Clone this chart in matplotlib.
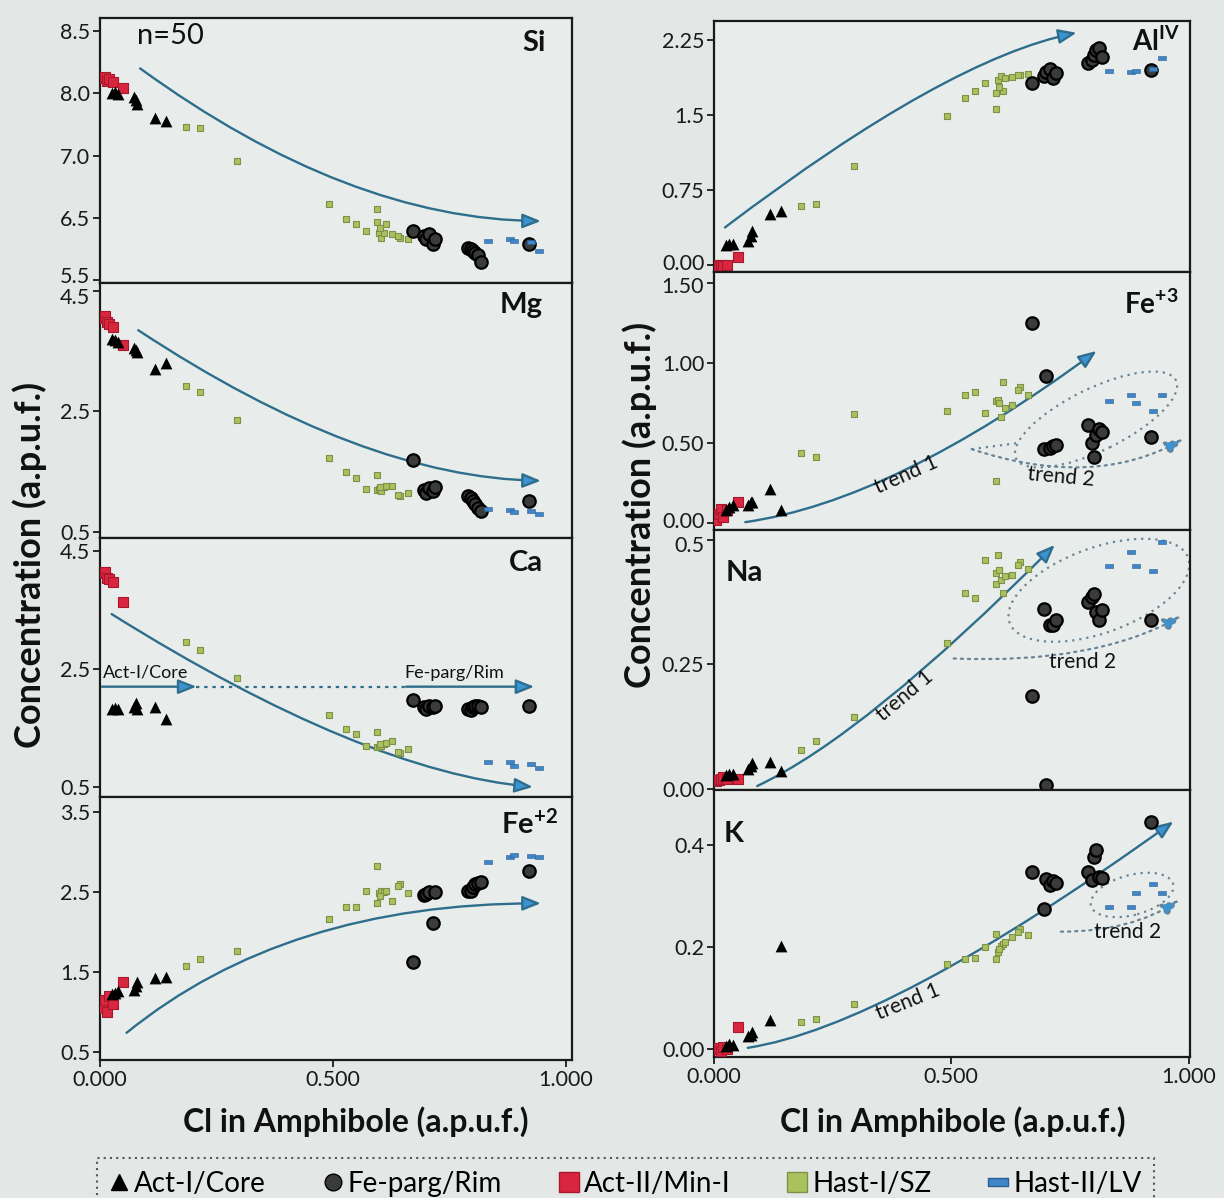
import matplotlib
matplotlib.use("Agg")
import matplotlib.pyplot as plt
import matplotlib.transforms as mtransforms
from matplotlib.patches import FancyArrowPatch, Ellipse
from matplotlib.path import Path
from matplotlib.lines import Line2D

plt.rcParams["font.family"] = ["Lato", "DejaVu Sans"]
plt.rcParams["mathtext.fontset"] = "custom"
plt.rcParams["mathtext.rm"] = "Lato"
plt.rcParams["mathtext.bf"] = "Lato:bold"

# Cl in amphibole (a.p.u.f.), one list per group, same order in every panel
act1_x = [0.025, 0.032, 0.039, 0.072, 0.077, 0.080, 0.118, 0.141]
parg_x = [0.671, 0.696, 0.700, 0.707, 0.714, 0.720, 0.789, 0.796, 0.800, 0.805, 0.811, 0.818, 0.920]
act2_x = [0.005, 0.010, 0.015, 0.020, 0.028, 0.050]
hast1_x = [0.184, 0.214, 0.295, 0.491, 0.529, 0.550, 0.570, 0.594, 0.594, 0.599, 0.604,
           0.610, 0.614, 0.627, 0.644, 0.661, 0.600, 0.640]
hast2_x = [0.832, 0.879, 0.889, 0.925, 0.943]

# Si (axis drawn with evenly spaced ticks labelled 8.5/8.0/7.0/6.5/5.5)
si_act1 = [7.75, 7.77, 7.74, 7.71, 7.67, 7.62, 7.45, 7.41]
si_parg = [6.09, 6.03, 5.99, 6.05, 5.93, 6.00, 5.89, 5.87, 5.85, 5.83, 5.80, 5.72, 5.93]
si_act2 = [7.93, 7.95, 7.90, 7.92, 7.88, 7.81]
si_hast1 = [7.34, 7.33, 6.93, 6.42, 6.24, 6.18, 6.09, 6.36, 6.20, 6.07, 6.01, 6.07, 6.17, 6.05, 6.01, 5.99, 6.13, 6.03]
si_hast2 = [5.97, 5.99, 5.97, 5.96, 5.85]

mg_act1 = [3.70, 3.68, 3.65, 3.55, 3.52, 3.48, 3.20, 3.30]
mg_parg = [1.69, 1.19, 1.15, 1.23, 1.18, 1.24, 1.10, 1.06, 1.02, 0.96, 0.90, 0.85, 1.01]
mg_act2 = [4.05, 4.08, 3.98, 3.95, 3.90, 3.60]
mg_hast1 = [2.92, 2.82, 2.36, 1.73, 1.50, 1.40, 1.22, 1.45, 1.20, 1.22, 1.18, 1.24, 1.26, 1.27, 1.09, 1.15, 1.25, 1.12]
mg_hast2 = [0.88, 0.86, 0.83, 0.84, 0.80]

ca_act1 = [1.82, 1.84, 1.83, 1.85, 1.93, 1.82, 1.85, 1.65]
ca_parg = [1.98, 1.85, 1.83, 1.88, 1.85, 1.87, 1.83, 1.81, 1.85, 1.87, 1.88, 1.85, 1.88]
ca_act2 = [4.12, 4.15, 4.05, 4.02, 3.97, 3.63]
ca_hast1 = [2.95, 2.83, 2.34, 1.72, 1.49, 1.40, 1.20, 1.44, 1.18, 1.17, 1.20, 1.22, 1.25, 1.28, 1.07, 1.15, 1.22, 1.10]
ca_hast2 = [0.93, 0.93, 0.86, 0.89, 0.83]

fe2_act1 = [1.22, 1.24, 1.26, 1.28, 1.33, 1.37, 1.43, 1.44]
fe2_parg = [1.62, 2.46, 2.48, 2.50, 2.12, 2.50, 2.51, 2.52, 2.57, 2.60, 2.62, 2.63, 2.77]
fe2_act2 = [1.05, 1.15, 1.00, 1.20, 1.10, 1.37]
fe2_hast1 = [1.58, 1.66, 1.76, 2.16, 2.31, 2.32, 2.51, 2.83, 2.37, 2.49, 2.52, 2.50, 2.52, 2.39, 2.60, 2.49, 2.45, 2.58]
fe2_hast2 = [2.88, 2.94, 2.97, 2.95, 2.94]

al_act1 = [0.20, 0.21, 0.21, 0.24, 0.29, 0.34, 0.51, 0.54]
al_parg = [1.82, 1.89, 1.93, 1.96, 1.87, 1.92, 2.02, 2.05, 2.10, 2.15, 2.17, 2.08, 1.95]
al_act2 = [0.00, -0.01, 0.00, -0.01, 0.00, 0.08]
al_hast1 = [0.59, 0.61, 0.99, 1.49, 1.67, 1.74, 1.82, 1.56, 1.72, 1.85, 1.89, 1.74, 1.87, 1.88, 1.90, 1.91, 1.78, 1.90]
al_hast2 = [1.94, 1.93, 1.94, 1.96, 2.07]

fe3_act1 = [0.08, 0.10, 0.11, 0.11, 0.13, 0.13, 0.21, 0.08]
fe3_parg = [1.25, 0.46, 0.92, 0.47, 0.48, 0.49, 0.61, 0.50, 0.41, 0.55, 0.59, 0.57, 0.54]
fe3_act2 = [0.02, 0.06, 0.09, 0.04, 0.08, 0.13]
fe3_hast1 = [0.44, 0.41, 0.68, 0.70, 0.80, 0.82, 0.69, 0.26, 0.76, 0.77, 0.66, 0.88, 0.72, 0.74, 0.85, 0.80, 0.75, 0.83]
fe3_hast2 = [0.76, 0.80, 0.75, 0.70, 0.80]

na_act1 = [0.028, 0.030, 0.030, 0.040, 0.047, 0.053, 0.054, 0.036]
na_parg = [0.186, 0.362, 0.008, 0.329, 0.330, 0.340, 0.375, 0.385, 0.392, 0.355, 0.340, 0.360, 0.340]
na_act2 = [0.016, 0.018, 0.020, 0.024, 0.020, 0.020]
na_hast1 = [0.079, 0.097, 0.144, 0.294, 0.393, 0.384, 0.459, 0.412, 0.434, 0.469, 0.420, 0.393, 0.427,
            0.430, 0.455, 0.442, 0.440, 0.450]
na_hast2 = [0.448, 0.476, 0.448, 0.437, 0.495]

k_act1 = [0.006, 0.010, 0.008, 0.025, 0.028, 0.033, 0.057, 0.201]
k_parg = [0.348, 0.274, 0.333, 0.322, 0.330, 0.325, 0.348, 0.332, 0.377, 0.390, 0.338, 0.335, 0.446]
k_act2 = [0.000, 0.002, -0.004, 0.003, 0.000, 0.043]
k_hast1 = [0.053, 0.059, 0.088, 0.167, 0.176, 0.178, 0.200, 0.176, 0.226, 0.191, 0.202, 0.206, 0.210,
           0.220, 0.235, 0.224, 0.196, 0.230]
k_hast2 = [0.279, 0.279, 0.305, 0.323, 0.305]

# trend arrows: start, bend control, tip (data units of each panel)
si_trend = [(0.086, 8.05), (0.532, 6.23), (0.946, 6.21)]
mg_trend = [(0.082, 3.85), (0.562, 1.40), (0.946, 1.35)]
ca_trend = [(0.025, 3.43), (0.566, 0.76), (0.929, 0.50)]
fe2_trend = [(0.057, 0.74), (0.399, 2.36), (0.946, 2.36)]
al_trend = [(0.023, 0.375), (0.491, 2.06), (0.764, 2.32)]
fe3_trend1 = [(0.066, 0.006), (0.377, 0.137), (0.806, 1.075)]
na_trend1 = [(0.091, 0.006), (0.319, 0.108), (0.718, 0.49)]
k_trend1 = [(0.071, 0.002), (0.367, 0.044), (0.968, 0.446)]
fe3_trend2 = [(0.543, 0.462), (0.80, 0.21), (0.988, 0.524)]
na_trend2 = [(0.505, 0.262), (0.80, 0.25), (0.984, 0.347)]
k_trend2 = [(0.731, 0.23), (0.88, 0.23), (0.98, 0.292)]

group_labels = ["Act-I/Core", "Fe-parg/Rim", "Act-II/Min-I", "Hast-I/SZ", "Hast-II/LV"]

BG = "#e3e8e6"
PANEL = "#e8edeb"
SHAFT = "#2e6e8c"
HEAD = "#3b93d2"
DOTS = "#6a8496"
RED, RED_E = "#d9263f", "#a8182c"
GREEN, GREEN_E = "#a9c25e", "#7f9148"
BLUE = "#3f86c8"
DASH = [(-1, -0.38), (1, -0.38), (1, 0.38), (-1, 0.38), (-1, -0.38)]

fig = plt.figure(figsize=(12.24, 11.98), dpi=100, facecolor=BG)


def rect(x0, x1, top, bot):
    return [x0 / 1224, 1 - bot / 1198, (x1 - x0) / 1224, (bot - top) / 1198]


def nudge(text, px):
    text.set_transform(text.get_transform() + mtransforms.ScaledTranslation(0, px / 100, fig.dpi_scale_trans))


def panel(r, ylim, yticks, yticklabels, xmax, bottom_row, top_shift=0, bottom_shift=0):
    ax = fig.add_axes(r, facecolor=PANEL)
    ax.set_yticks(yticks)
    ax.set_yticklabels(yticklabels)
    ax.set_xticks([0, 0.5, 1.0])
    if bottom_row:
        ax.set_xticklabels(["0.000", "0.500", "1.000"])
    else:
        ax.tick_params(axis="x", bottom=False, labelbottom=False)
    ax.tick_params(direction="out", length=5, width=1.3, labelsize=15.5, pad=2, colors="#1a1a1a")
    for s in ax.spines.values():
        s.set_linewidth(1.6)
        s.set_color("#1a1a1a")
    labs = ax.get_yticklabels()
    if top_shift:
        nudge(labs[0], -top_shift)
    if bottom_shift:
        nudge(labs[-1], bottom_shift)
    ax._lims = (xmax, ylim)
    return ax


def points(ax, act1, parg, act2, hast1, hast2):
    ax.scatter(hast1_x, hast1, marker="s", s=22, c=GREEN, edgecolors=GREEN_E, linewidths=0.8, zorder=3)
    ax.scatter(act2_x, act2, marker="s", s=50, c=RED, edgecolors=RED_E, linewidths=0.8, zorder=4)
    ax.scatter(act1_x, act1, marker="^", s=72, c="black", linewidths=0, zorder=4)
    ax.scatter(parg_x, parg, marker="o", s=80, c="#3b3b3b", edgecolors="black", linewidths=1.6, zorder=4)
    ax.scatter(hast2_x, hast2, marker=DASH, s=40, c=BLUE, edgecolors="#2a5f90", linewidths=0.4, zorder=4)


def arrow(ax, pts, dotted=False):
    path = Path(pts, [Path.MOVETO, Path.CURVE3, Path.CURVE3])
    a = FancyArrowPatch(path=path, arrowstyle="-|>,head_length=0.55,head_width=0.22",
                        mutation_scale=20, lw=1.7 if not dotted else 1.6,
                        ls=(0, (1, 2.2)) if dotted else "-",
                        edgecolor=DOTS if dotted else SHAFT, facecolor=HEAD,
                        transform=ax.transData, zorder=2)
    ax.add_patch(a)


def loop(ax, cx, cy, w_px, h_px, angle):
    tr = fig.dpi_scale_trans + mtransforms.ScaledTranslation(cx, cy, ax.transData)
    e = Ellipse((0, 0), w_px / 100, h_px / 100, angle=angle, transform=tr, fill=False,
                ls=(0, (1, 2.2)), lw=1.6, edgecolor=DOTS, zorder=2)
    ax.add_patch(e)


def finish(ax):
    xmax, ylim = ax._lims
    ax.set_xlim(0, xmax)
    ax.set_ylim(*ylim)


def label(ax, x, y, s, ha="right", size=21, bold=True):
    ax.text(x, y, s, transform=ax.transAxes, ha=ha, va="top", fontsize=size,
            fontweight="bold" if bold else "normal", color="#111")


L0, L1 = 100, 572
R0, R1 = 714, 1190

# ---- left column
ax = panel(rect(L0, L1, 18, 283), (5.464, 8.657), [8.5, 7.75, 7.0, 6.25, 5.5],
           ["8.5", "8.0", "7.0", "6.5", "5.5"], 1.013, False, bottom_shift=5)
points(ax, si_act1, si_parg, si_act2, si_hast1, si_hast2)
arrow(ax, si_trend)
label(ax, 0.945, 0.955, "Si")
label(ax, 0.078, 0.98, "n=50", ha="left", size=21, bold=False)
finish(ax)

ax = panel(rect(L0, L1, 283, 538), (0.40, 4.633), [4.5, 2.5, 0.5], ["4.5", "2.5", "0.5"], 1.013, False,
           top_shift=5)
points(ax, mg_act1, mg_parg, mg_act2, mg_hast1, mg_hast2)
arrow(ax, mg_trend)
label(ax, 0.938, 0.965, "Mg")
finish(ax)

ax = panel(rect(L0, L1, 538, 797), (0.33, 4.72), [4.5, 2.5, 0.5], ["4.5", "2.5", "0.5"], 1.013, False)
points(ax, ca_act1, ca_parg, ca_act2, ca_hast1, ca_hast2)
arrow(ax, ca_trend)
arrow(ax, [(0.004, 2.2), (0.10, 2.2), (0.207, 2.2)])
arrow(ax, [(0.657, 2.2), (0.80, 2.2), (0.932, 2.2)])
ax.plot([0.207, 0.657], [2.2, 2.2], ls=(0, (1.5, 2.2)), color=SHAFT, lw=1.6, zorder=2)
ax.text(0.007, 2.30, "Act-I/Core", fontsize=13, ha="left", va="bottom", color="#111")
ax.text(0.654, 2.30, "Fe-parg/Rim", fontsize=13, ha="left", va="bottom", color="#111")
label(ax, 0.938, 0.955, "Ca")
finish(ax)

ax = panel(rect(L0, L1, 797, 1060), (0.40, 3.69), [3.5, 2.5, 1.5, 0.5], ["3.5", "2.5", "1.5", "0.5"], 1.013, True)
points(ax, fe2_act1, fe2_parg, fe2_act2, fe2_hast1, fe2_hast2)
arrow(ax, fe2_trend)
label(ax, 0.97, 0.955, r"$\mathbf{Fe^{+2}}$")
finish(ax)

# ---- right column
ax = panel(rect(R0, R1, 21, 272), (-0.07, 2.4375), [2.25, 1.5, 0.75, 0.0],
           ["2.25", "1.5", "0.75", "0.00"], 1.003, False, bottom_shift=3)
points(ax, al_act1, al_parg, al_act2, al_hast1, al_hast2)
arrow(ax, al_trend)
label(ax, 0.978, 0.975, r"$\mathbf{Al^{IV}}$", size=20)
finish(ax)

ax = panel(rect(R0, R1, 272, 530), (-0.043, 1.568), [1.5, 1.0, 0.5, 0.0],
           ["1.50", "1.00", "0.50", "0.00"], 1.003, False, top_shift=2, bottom_shift=3)
points(ax, fe3_act1, fe3_parg, fe3_act2, fe3_hast1, fe3_hast2)
arrow(ax, fe3_trend1)
arrow(ax, fe3_trend2, dotted=True)
loop(ax, 0.805, 0.647, 178, 62, 26)
ax.plot([0.543, 0.64], [0.462, 0.50], ls=(0, (1, 2.2)), color=DOTS, lw=1.6, zorder=2)
ax.text(0.406, 0.30, "trend 1", fontsize=15, rotation=24, ha="center", va="center", color="#111")
ax.text(0.732, 0.29, "trend 2", fontsize=15, rotation=-5, ha="center", va="center", color="#111")
label(ax, 0.976, 0.93, r"$\mathbf{Fe^{+3}}$", size=20)
finish(ax)

ax = panel(rect(R0, R1, 530, 790), (-0.002, 0.52), [0.5, 0.25, 0.0], ["0.5", "0.25", "0.00"], 1.003, False,
           top_shift=4)
points(ax, na_act1, na_parg, na_act2, na_hast1, na_hast2)
arrow(ax, na_trend1)
arrow(ax, na_trend2, dotted=True)
loop(ax, 0.811, 0.399, 190, 85, 20)
ax.text(0.403, 0.188, "trend 1", fontsize=15, rotation=40, ha="center", va="center", color="#111")
ax.text(0.776, 0.254, "trend 2", fontsize=15, ha="center", va="center", color="#111")
label(ax, 0.024, 0.885, "Na", ha="left")
finish(ax)

ax = panel(rect(R0, R1, 790, 1057), (-0.016, 0.508), [0.4, 0.2, 0.0], ["0.4", "0.2", "0.00"], 1.003, True)
points(ax, k_act1, k_parg, k_act2, k_hast1, k_hast2)
arrow(ax, k_trend1)
arrow(ax, k_trend2, dotted=True)
loop(ax, 0.881, 0.302, 85, 40, 15)
ax.text(0.409, 0.093, "trend 1", fontsize=15, rotation=22, ha="center", va="center", color="#111")
ax.text(0.871, 0.230, "trend 2", fontsize=15, ha="center", va="center", color="#111")
label(ax, 0.02, 0.885, "K", ha="left")
finish(ax)

# ---- shared labels
for xc, yc in [(30, 565), (640, 505)]:
    fig.text(xc / 1224, 1 - yc / 1198, "Concentration (a.p.u.f.)", rotation=90, ha="center",
             va="center", fontsize=26, fontweight="bold", color="#111")
for xc in [356, 953]:
    fig.text(xc / 1224, 1 - 1122 / 1198, "Cl in Amphibole (a.p.u.f.)", ha="center", va="center",
             fontsize=23, fontweight="bold", color="#111")

handles = [
    Line2D([], [], ls="", marker="^", color="black", markersize=11),
    Line2D([], [], ls="", marker="o", markerfacecolor="#3b3b3b", markeredgecolor="black", markersize=12),
    Line2D([], [], ls="", marker="s", markerfacecolor=RED, markeredgecolor=RED_E, markersize=14),
    Line2D([], [], ls="", marker="s", markerfacecolor=GREEN, markeredgecolor=GREEN_E, markersize=14),
    Line2D([], [], ls="", marker=DASH, markerfacecolor=BLUE, markeredgecolor="#2a5f90", markersize=15),
]
leg = fig.legend(handles, group_labels, loc="center", bbox_to_anchor=(0.511, 0.012), ncol=5,
                 fontsize=20, frameon=True, fancybox=False, handlelength=0.7, handletextpad=0.2,
                 columnspacing=2.05, borderpad=0.45)
fr = leg.get_frame()
fr.set_linestyle((0, (1, 2)))
fr.set_edgecolor("#333")
fr.set_facecolor(BG)
fr.set_linewidth(1.5)

fig.savefig("out.png", dpi=100, facecolor=BG)
